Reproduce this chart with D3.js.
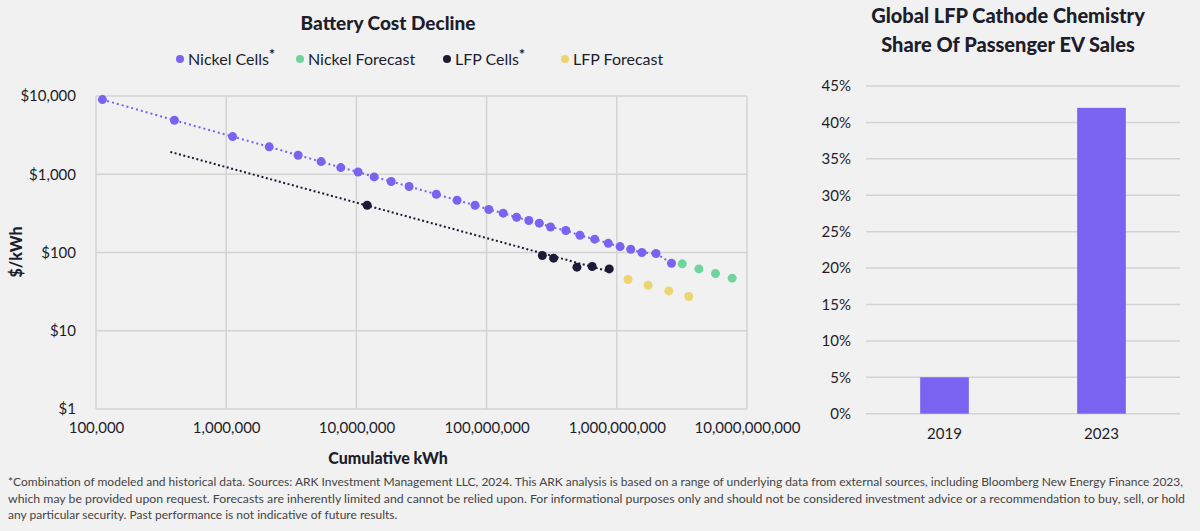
<!DOCTYPE html>
<html>
<head>
<meta charset="utf-8">
<script src="https://cdn.jsdelivr.net/npm/d3@7"></script>
<style>
  body { margin: 0; background: #f1f1f1; }
  svg { display: block; font-family: Lato, "Open Sans", sans-serif; }
</style>
</head>
<body>
<svg id="chart" width="1200" height="531"></svg>
<script>
// ---- data ----
let nickelCellsX = [1.12e5, 4.0e5, 1.12e6, 2.14e6, 3.57e6, 5.36e6, 7.59e6, 1.03e7, 1.37e7, 1.85e7, 2.54e7, 4.11e7, 5.93e7, 8.15e7, 1.04e8, 1.34e8, 1.70e8, 2.11e8, 2.54e8, 3.10e8, 4.06e8, 5.21e8, 6.76e8, 8.6e8, 1.06e9, 1.28e9, 1.56e9, 2.0e9, 2.63e9];
let nickelCellsY = [9000, 4900, 3030, 2240, 1750, 1450, 1216, 1070, 925, 808, 697, 555, 466, 402, 354, 318, 282, 256, 237, 212, 191, 166, 148, 131, 119, 110, 100, 97, 73];
let nickelFcX = [3.18e9, 4.27e9, 5.73e9, 7.69e9];
let nickelFcY = [71.6, 61.7, 53.8, 47];
let lfpCellsX = [1.21e7, 2.68e8, 3.27e8, 4.94e8, 6.47e8, 8.75e8];
let lfpCellsY = [402, 91.5, 84.6, 64.9, 66.2, 61.7];
let lfpFcX = [1.22e9, 1.74e9, 2.51e9, 3.57e9];
let lfpFcY = [45.2, 38.2, 32.3, 27.4];
let lfpTrendX = [3.72e5, 8.8e8];
let lfpTrendY = [1930, 57];

let xTicks = [1e5, 1e6, 1e7, 1e8, 1e9, 1e10];
let yTicks = [1, 10, 100, 1000, 10000];

let legendNames = ["Nickel Cells", "Nickel Forecast", "LFP Cells", "LFP Forecast"];
let legendStar = [true, false, true, false];

let shareYears = ["2019", "2023"];
let shareValues = [5, 42];
let shareTicks = [0, 5, 10, 15, 20, 25, 30, 35, 40, 45];

let footnote = [
  "*Combination of modeled and historical data. Sources: ARK Investment Management LLC, 2024. This ARK analysis is based on a range of underlying data from external sources, including Bloomberg New Energy Finance 2023,",
  "which may be provided upon request. Forecasts are inherently limited and cannot be relied upon. For informational purposes only and should not be considered investment advice or a recommendation to buy, sell, or hold",
  "any particular security. Past performance is not indicative of future results."
];

// ---- styles ----
let clrNickel = "#7b63f2";
let clrNickelFc = "#6fd59b";
let clrLfp = "#1b1b38";
let clrLfpFc = "#ecd46f";
let clrGrid = "#d3d3d3";
let clrText = "#1d1d2b";
let legendClr = [clrNickel, clrNickelFc, clrLfp, clrLfpFc];

let svg = d3.select("#chart");

// ================= left chart =================
let x = d3.scaleLog().domain([1e5, 1e10]).range([96, 747]);
let y = d3.scaleLog().domain([1, 1e4]).range([409, 96]);

svg.append("text")
  .attr("x", 388).attr("y", 30)
  .attr("text-anchor", "middle")
  .attr("font-size", 19).attr("font-weight", 900)
  .attr("fill", clrText)
  .text("Battery Cost Decline");

// legend
let legX = [180, 300, 447, 565];
let leg = svg.append("g").attr("class", "legend");
legendNames.forEach((name, i) => {
  leg.append("circle").attr("cx", legX[i]).attr("cy", 59).attr("r", 4).attr("fill", legendClr[i]);
  let t = leg.append("text")
    .attr("x", legX[i] + 8).attr("y", 65)
    .attr("font-size", 16).attr("fill", clrText)
    .text(name);
  if (legendStar[i]) {
    t.append("tspan").attr("dy", -6).attr("font-size", 14).attr("font-weight", 900).text("*");
  }
});

// grid
let gGrid = svg.append("g").attr("class", "grid");
gGrid.selectAll("line.v").data(xTicks).enter().append("line")
  .attr("x1", d => x(d)).attr("x2", d => x(d))
  .attr("y1", y(1e4)).attr("y2", y(1))
  .attr("stroke", clrGrid).attr("stroke-width", 1.5);
gGrid.selectAll("line.h").data(yTicks).enter().append("line")
  .attr("y1", d => y(d)).attr("y2", d => y(d))
  .attr("x1", x(1e5)).attr("x2", x(1e10))
  .attr("stroke", clrGrid).attr("stroke-width", 1.5);

// axes
let xAxis = svg.append("g")
  .attr("transform", "translate(0," + y(1) + ")")
  .call(d3.axisBottom(x).tickValues(xTicks).tickSize(0).tickPadding(13).tickFormat(d3.format(",")));
let yAxis = svg.append("g")
  .attr("transform", "translate(" + x(1e5) + ",0)")
  .call(d3.axisLeft(y).tickValues(yTicks).tickSize(0).tickPadding(20).tickFormat(d => "$" + d3.format(",")(d)));
[xAxis, yAxis].forEach(a => {
  a.select(".domain").remove();
  a.selectAll("text").attr("font-size", 15).attr("fill", clrText).attr("font-family", "Lato, sans-serif");
});

svg.append("text")
  .attr("x", 388).attr("y", 464)
  .attr("text-anchor", "middle").attr("font-size", 16).attr("font-weight", 900)
  .attr("fill", clrText).text("Cumulative kWh");
svg.append("text")
  .attr("transform", "translate(22,252) rotate(-90)")
  .attr("text-anchor", "middle").attr("font-size", 16).attr("font-weight", 900)
  .attr("fill", clrText).text("$/kWh");

// trend lines
let line = d3.line().x(d => x(d[0])).y(d => y(d[1]));
svg.append("path")
  .datum(d3.zip(nickelCellsX, nickelCellsY))
  .attr("d", line).attr("fill", "none")
  .attr("stroke", clrNickel).attr("stroke-width", 2).attr("stroke-dasharray", "2,3");
svg.append("path")
  .datum(d3.zip(lfpTrendX, lfpTrendY))
  .attr("d", line).attr("fill", "none")
  .attr("stroke", clrLfp).attr("stroke-width", 2).attr("stroke-dasharray", "2,2.5");

// points
let drawPts = (xs, ys, clr) => {
  svg.append("g").selectAll("circle")
    .data(d3.zip(xs, ys)).enter().append("circle")
    .attr("cx", d => x(d[0])).attr("cy", d => y(d[1]))
    .attr("r", 4.5).attr("fill", clr);
};
drawPts(nickelCellsX, nickelCellsY, clrNickel);
drawPts(nickelFcX, nickelFcY, clrNickelFc);
drawPts(lfpCellsX, lfpCellsY, clrLfp);
drawPts(lfpFcX, lfpFcY, clrLfpFc);

// ================= right chart =================
let bx = d3.scaleBand().domain(shareYears).range([866, 1180]).paddingInner(0.69).paddingOuter(0.345);
let by = d3.scaleLinear().domain([0, 45]).range([413.7, 86]);

let title2 = svg.append("text").attr("text-anchor", "middle")
  .attr("font-size", 20).attr("font-weight", 900).attr("fill", clrText);
title2.append("tspan").attr("x", 1008).attr("y", 23).text("Global LFP Cathode Chemistry");
title2.append("tspan").attr("x", 1008).attr("y", 52).text("Share Of Passenger EV Sales");

svg.append("g").selectAll("line").data(shareTicks).enter().append("line")
  .attr("x1", 866).attr("x2", 1180)
  .attr("y1", d => by(d)).attr("y2", d => by(d))
  .attr("stroke", clrGrid).attr("stroke-width", 1.5);

let byAxis = svg.append("g")
  .attr("transform", "translate(866,0)")
  .call(d3.axisLeft(by).tickValues(shareTicks).tickSize(0).tickPadding(15).tickFormat(d => d + "%"));
let bxAxis = svg.append("g")
  .attr("transform", "translate(0," + by(0) + ")")
  .call(d3.axisBottom(bx).tickSize(0).tickPadding(15));
[byAxis, bxAxis].forEach(a => {
  a.select(".domain").remove();
  a.selectAll("text").attr("font-size", 15).attr("fill", clrText).attr("font-family", "Lato, sans-serif");
});

svg.append("g").selectAll("rect")
  .data(d3.zip(shareYears, shareValues)).enter().append("rect")
  .attr("x", d => bx(d[0])).attr("width", bx.bandwidth())
  .attr("y", d => by(d[1])).attr("height", d => by(0) - by(d[1]))
  .attr("fill", clrNickel);

// ================= footnote =================
let fnLen = [1175, 1177, null];
footnote.forEach((t, i) => {
  let el = svg.append("text")
    .attr("x", 8).attr("y", 486 + i * 16.5)
    .attr("font-size", 12).attr("fill", "#444")
    .text(t);
  if (fnLen[i]) el.attr("textLength", fnLen[i]).attr("lengthAdjust", "spacingAndGlyphs");
});
</script>
</body>
</html>
